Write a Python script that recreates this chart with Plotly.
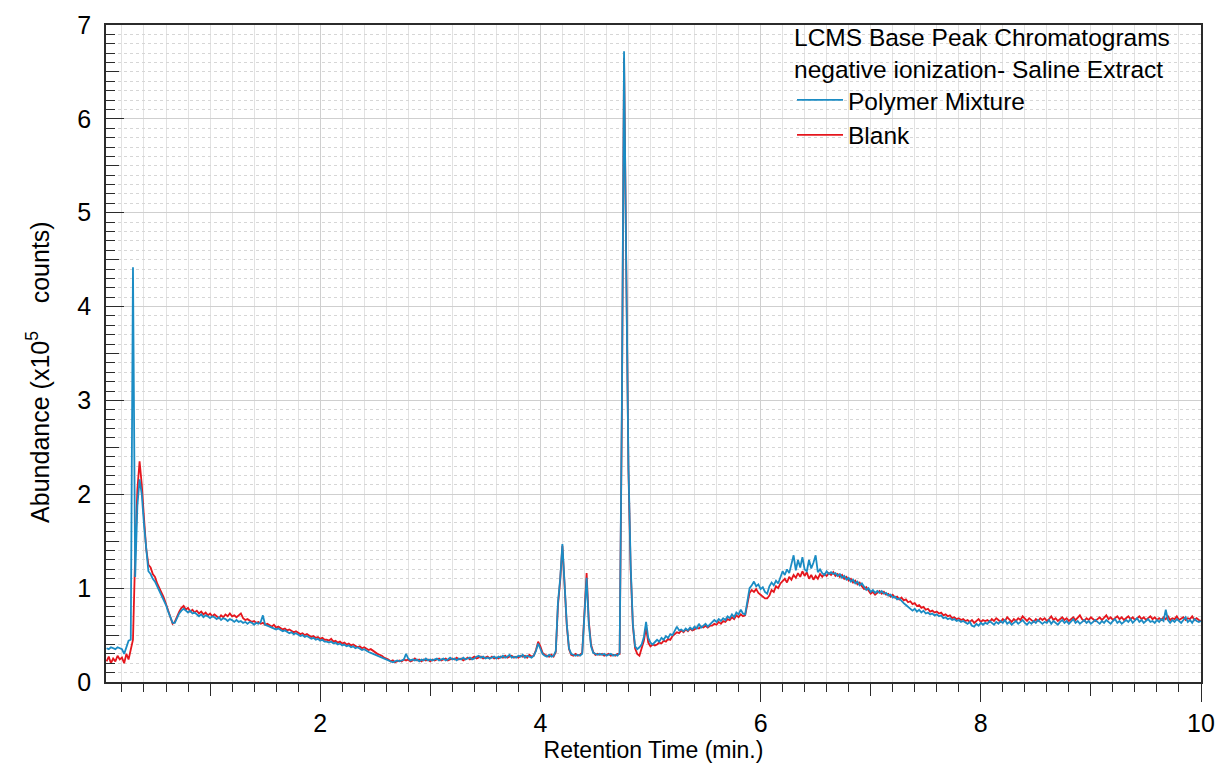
import numpy as np
import plotly.graph_objects as go

# Base peak abundance (x10^5 counts), sampled every 0.02 min starting at 0.06 min
polymer = [
    0.36, 0.35, 0.37, 0.36, 0.35, 0.37, 0.36, 0.35, 0.30, 0.38, 0.44, 0.45, 4.42, 1.12, 1.88, 2.16, 2.00, 1.68, 1.38, 1.18, 1.15, 1.10, 1.07, 1.02, 0.97,
    0.93, 0.88, 0.82, 0.75, 0.69, 0.63, 0.63, 0.68, 0.73, 0.76, 0.78, 0.76, 0.74, 0.76, 0.73, 0.74, 0.72, 0.70, 0.72, 0.69, 0.71, 0.70, 0.68, 0.70, 0.69,
    0.67, 0.69, 0.66, 0.68, 0.67, 0.65, 0.67, 0.66, 0.64, 0.66, 0.64, 0.65, 0.63, 0.64, 0.62, 0.64, 0.63, 0.61, 0.63, 0.62, 0.64, 0.71, 0.61, 0.60, 0.59,
    0.58, 0.57, 0.56, 0.57, 0.55, 0.54, 0.55, 0.53, 0.52, 0.53, 0.51, 0.52, 0.50, 0.49, 0.50, 0.48, 0.49, 0.47, 0.46, 0.47, 0.45, 0.46, 0.44, 0.45, 0.43,
    0.43, 0.42, 0.43, 0.41, 0.42, 0.40, 0.41, 0.39, 0.40, 0.38, 0.39, 0.37, 0.38, 0.36, 0.37, 0.35, 0.34, 0.35, 0.33, 0.32, 0.31, 0.30, 0.29, 0.28, 0.27,
    0.26, 0.25, 0.24, 0.23, 0.22, 0.21, 0.22, 0.23, 0.22, 0.23, 0.24, 0.30, 0.25, 0.23, 0.24, 0.23, 0.24, 0.22, 0.24, 0.23, 0.25, 0.23, 0.24, 0.23, 0.24,
    0.25, 0.23, 0.24, 0.25, 0.23, 0.24, 0.26, 0.24, 0.25, 0.23, 0.25, 0.24, 0.26, 0.24, 0.25, 0.26, 0.24, 0.25, 0.27, 0.28, 0.26, 0.27, 0.25, 0.26, 0.25,
    0.26, 0.27, 0.25, 0.27, 0.26, 0.28, 0.26, 0.27, 0.29, 0.26, 0.27, 0.26, 0.28, 0.27, 0.29, 0.26, 0.28, 0.27, 0.26, 0.28, 0.33, 0.41, 0.36, 0.30, 0.28,
    0.27, 0.29, 0.27, 0.28, 0.33, 0.85, 1.10, 1.47, 1.05, 0.62, 0.36, 0.30, 0.29, 0.28, 0.29, 0.28, 0.30, 0.75, 1.11, 0.62, 0.38, 0.31, 0.30, 0.29, 0.30,
    0.29, 0.30, 0.28, 0.29, 0.30, 0.28, 0.29, 0.28, 0.31, 2.90, 6.72, 4.40, 2.30, 1.25, 0.62, 0.38, 0.35, 0.37, 0.40, 0.48, 0.64, 0.47, 0.42, 0.40, 0.43,
    0.45, 0.43, 0.47, 0.45, 0.49, 0.47, 0.51, 0.50, 0.54, 0.59, 0.55, 0.56, 0.54, 0.57, 0.55, 0.58, 0.56, 0.59, 0.57, 0.62, 0.58, 0.60, 0.62, 0.59, 0.61,
    0.63, 0.66, 0.64, 0.67, 0.65, 0.68, 0.66, 0.70, 0.68, 0.72, 0.69, 0.74, 0.72, 0.77, 0.73, 0.72, 0.86, 1.00, 1.03, 1.07, 1.02, 1.04, 0.99, 1.01, 0.96,
    0.94, 1.02, 1.06, 1.03, 1.08, 1.05, 1.12, 1.18, 1.14, 1.20, 1.16, 1.25, 1.35, 1.19, 1.30, 1.22, 1.33, 1.20, 1.18, 1.30, 1.21, 1.27, 1.35, 1.17, 1.20,
    1.16, 1.14, 1.18, 1.15, 1.17, 1.15, 1.16, 1.13, 1.15, 1.11, 1.13, 1.09, 1.11, 1.07, 1.09, 1.05, 1.07, 1.03, 1.05, 1.01, 0.98, 1.00, 0.96, 0.98, 0.95,
    0.97, 0.95, 0.97, 0.94, 0.95, 0.92, 0.93, 0.90, 0.91, 0.88, 0.89, 0.86, 0.84, 0.82, 0.80, 0.78, 0.76, 0.78, 0.75, 0.77, 0.74, 0.76, 0.73, 0.74, 0.72,
    0.73, 0.71, 0.72, 0.70, 0.71, 0.68, 0.69, 0.67, 0.68, 0.66, 0.67, 0.65, 0.66, 0.64, 0.65, 0.63, 0.62, 0.64, 0.60, 0.59, 0.62, 0.60, 0.63, 0.61, 0.63,
    0.62, 0.65, 0.63, 0.61, 0.64, 0.62, 0.65, 0.63, 0.66, 0.62, 0.64, 0.61, 0.63, 0.65, 0.62, 0.64, 0.66, 0.63, 0.61, 0.64, 0.62, 0.65, 0.63, 0.66, 0.64,
    0.62, 0.64, 0.63, 0.66, 0.62, 0.65, 0.63, 0.61, 0.64, 0.66, 0.63, 0.65, 0.62, 0.64, 0.67, 0.63, 0.65, 0.62, 0.64, 0.66, 0.63, 0.65, 0.62, 0.64, 0.66,
    0.64, 0.62, 0.65, 0.63, 0.66, 0.64, 0.62, 0.65, 0.67, 0.63, 0.65, 0.62, 0.64, 0.66, 0.64, 0.67, 0.63, 0.65, 0.68, 0.64, 0.66, 0.63, 0.65, 0.67, 0.64,
    0.65, 0.63, 0.66, 0.64, 0.67, 0.65, 0.77, 0.66, 0.63, 0.66, 0.64, 0.67, 0.65, 0.63, 0.66, 0.69, 0.64, 0.66, 0.63, 0.67, 0.65, 0.64, 0.65,
]

blank = [
    0.22, 0.27, 0.20, 0.25, 0.22, 0.28, 0.24, 0.26, 0.20, 0.30, 0.24, 0.33, 0.45, 1.35, 2.05, 2.35, 2.10, 1.75, 1.42, 1.25, 1.22, 1.15, 1.12, 1.05, 0.99,
    0.95, 0.90, 0.83, 0.76, 0.70, 0.62, 0.64, 0.70, 0.75, 0.79, 0.81, 0.77, 0.79, 0.75, 0.77, 0.74, 0.76, 0.73, 0.75, 0.72, 0.74, 0.71, 0.73, 0.70, 0.72,
    0.70, 0.68, 0.71, 0.69, 0.72, 0.70, 0.73, 0.70, 0.71, 0.69, 0.71, 0.73, 0.68, 0.66, 0.67, 0.65, 0.64, 0.65, 0.63, 0.64, 0.62, 0.63, 0.61, 0.62, 0.60,
    0.59, 0.61, 0.58, 0.59, 0.57, 0.56, 0.57, 0.55, 0.56, 0.54, 0.53, 0.54, 0.52, 0.51, 0.52, 0.50, 0.51, 0.49, 0.48, 0.49, 0.47, 0.48, 0.46, 0.47, 0.45,
    0.45, 0.44, 0.46, 0.43, 0.44, 0.42, 0.43, 0.41, 0.42, 0.40, 0.41, 0.39, 0.40, 0.38, 0.37, 0.38, 0.36, 0.37, 0.35, 0.34, 0.35, 0.33, 0.32, 0.30, 0.29,
    0.28, 0.26, 0.25, 0.24, 0.22, 0.23, 0.21, 0.22, 0.23, 0.22, 0.24, 0.23, 0.24, 0.22, 0.23, 0.25, 0.23, 0.24, 0.22, 0.24, 0.23, 0.24, 0.22, 0.24, 0.23,
    0.24, 0.25, 0.23, 0.24, 0.25, 0.23, 0.24, 0.25, 0.24, 0.26, 0.24, 0.25, 0.23, 0.25, 0.26, 0.24, 0.26, 0.27, 0.25, 0.26, 0.27, 0.25, 0.26, 0.27, 0.25,
    0.27, 0.25, 0.26, 0.25, 0.27, 0.26, 0.28, 0.26, 0.27, 0.28, 0.26, 0.27, 0.26, 0.28, 0.27, 0.28, 0.26, 0.29, 0.27, 0.28, 0.34, 0.43, 0.38, 0.31, 0.29,
    0.28, 0.27, 0.29, 0.27, 0.32, 0.82, 1.08, 1.45, 1.03, 0.60, 0.35, 0.29, 0.28, 0.30, 0.28, 0.29, 0.31, 0.78, 1.16, 0.65, 0.40, 0.32, 0.29, 0.30, 0.29,
    0.30, 0.28, 0.29, 0.30, 0.28, 0.29, 0.28, 0.30, 0.30, 2.80, 6.65, 4.35, 2.25, 1.20, 0.60, 0.36, 0.30, 0.28, 0.36, 0.44, 0.58, 0.42, 0.38, 0.40, 0.39,
    0.40, 0.42, 0.41, 0.44, 0.43, 0.46, 0.45, 0.49, 0.51, 0.53, 0.52, 0.55, 0.53, 0.56, 0.54, 0.57, 0.55, 0.56, 0.58, 0.57, 0.59, 0.58, 0.60, 0.58, 0.60,
    0.60, 0.62, 0.61, 0.64, 0.62, 0.65, 0.64, 0.67, 0.66, 0.69, 0.67, 0.71, 0.69, 0.72, 0.70, 0.71, 0.82, 0.95, 0.98, 0.96, 0.99, 0.95, 0.93, 0.91, 0.89,
    0.89, 0.92, 0.98, 0.96, 1.02, 1.00, 1.05, 1.08, 1.10, 1.06, 1.12, 1.09, 1.14, 1.11, 1.16, 1.12, 1.18, 1.13, 1.17, 1.10, 1.14, 1.09, 1.13, 1.10, 1.15,
    1.12, 1.15, 1.13, 1.16, 1.14, 1.17, 1.13, 1.15, 1.12, 1.14, 1.10, 1.12, 1.08, 1.10, 1.06, 1.08, 1.04, 1.06, 1.02, 0.99, 1.01, 0.97, 0.94, 0.96, 0.93,
    0.95, 0.97, 0.94, 0.96, 0.93, 0.94, 0.91, 0.93, 0.90, 0.91, 0.88, 0.90, 0.87, 0.88, 0.85, 0.86, 0.83, 0.84, 0.81, 0.82, 0.79, 0.80, 0.77, 0.78, 0.75,
    0.76, 0.74, 0.75, 0.73, 0.74, 0.71, 0.72, 0.70, 0.71, 0.68, 0.69, 0.67, 0.68, 0.66, 0.67, 0.65, 0.66, 0.64, 0.66, 0.63, 0.65, 0.67, 0.64, 0.66, 0.65,
    0.66, 0.64, 0.67, 0.65, 0.68, 0.66, 0.64, 0.67, 0.65, 0.69, 0.66, 0.64, 0.67, 0.65, 0.68, 0.66, 0.70, 0.67, 0.65, 0.68, 0.66, 0.64, 0.67, 0.65, 0.68,
    0.66, 0.68, 0.65, 0.67, 0.70, 0.66, 0.68, 0.65, 0.67, 0.69, 0.66, 0.68, 0.65, 0.67, 0.69, 0.66, 0.68, 0.71, 0.67, 0.65, 0.68, 0.66, 0.69, 0.67, 0.65,
    0.67, 0.69, 0.66, 0.68, 0.71, 0.67, 0.69, 0.66, 0.68, 0.70, 0.67, 0.69, 0.66, 0.68, 0.70, 0.67, 0.69, 0.66, 0.68, 0.70, 0.67, 0.69, 0.66, 0.68, 0.70,
    0.67, 0.69, 0.66, 0.68, 0.66, 0.69, 0.67, 0.70, 0.66, 0.68, 0.67, 0.70, 0.66, 0.68, 0.69, 0.66, 0.68, 0.67, 0.70, 0.66, 0.68, 0.66, 0.65,
]

rt = np.round(0.06 + 0.02 * np.arange(len(polymer)), 2)

x_range = [0.055, 10.0]
y_range = [0.0, 7.0]

legend_title = "LCMS Base Peak Chromatograms<br>negative ionization- Saline Extract"
x_title = "Retention Time (min.)"
y_title = "Abundance (x10<sup>5</sup>\u00a0\u00a0\u00a0 counts)"

FONT = "Liberation Sans, Arial, sans-serif"
AX = "#2b2b2b"

fig = go.Figure()
fig.add_trace(go.Scatter(x=rt, y=blank, mode="lines", name="Blank",
                         line=dict(color="#e5161d", width=1.8), legendrank=2))
fig.add_trace(go.Scatter(x=rt, y=polymer, mode="lines", name="Polymer Mixture",
                         line=dict(color="#1b8cc4", width=1.8), legendrank=1))
# empty trace so the secondary (mid-length tick) axes are drawn
fig.add_trace(go.Scatter(x=[], y=[], xaxis="x2", yaxis="y2", showlegend=False, hoverinfo="skip"))

fig.update_layout(
    width=1219, height=774,
    margin=dict(l=106, r=18, t=25, b=92),
    paper_bgcolor="white", plot_bgcolor="white",
    font=dict(family=FONT, color="black", size=23),
    xaxis=dict(
        range=x_range, tick0=0, dtick=2, ticks="outside", ticklen=18, tickwidth=1.4,
        tickcolor=AX, showline=True, linecolor=AX, linewidth=1.5, mirror=True,
        showgrid=True, gridcolor="#cfcfcf", gridwidth=1, zeroline=False,
        tickfont=dict(size=25), ticklabelstandoff=0, automargin=False,
        title=dict(text=x_title, font=dict(size=23), standoff=2),
        minor=dict(dtick=0.2, tick0=0, ticks="outside", ticklen=8, tickwidth=1.4,
                   tickcolor=AX, showgrid=True, gridcolor="#e2e2e2", gridwidth=1),
    ),
    xaxis2=dict(
        range=x_range, overlaying="x", anchor="y", side="bottom", tick0=1, dtick=1,
        ticks="outside", ticklen=13, tickwidth=1.4, tickcolor=AX,
        showticklabels=False, showgrid=False, showline=False, zeroline=False,
    ),
    yaxis=dict(
        range=y_range, tick0=0, dtick=1, ticks="inside", ticklen=18, tickwidth=1.4,
        tickcolor=AX, showline=True, linecolor=AX, linewidth=1.5, mirror=True,
        showgrid=True, gridcolor="#cfcfcf", gridwidth=1, zeroline=False,
        tickfont=dict(size=25), ticklabelstandoff=8, automargin=False,
        minor=dict(dtick=0.1, tick0=0, ticks="inside", ticklen=9, tickwidth=1.4,
                   tickcolor=AX, showgrid=True, gridcolor="#d6d6d6", griddash="dot", gridwidth=1),
    ),
    yaxis2=dict(
        range=y_range, overlaying="y", anchor="x", side="left", tick0=0, dtick=0.5,
        ticks="inside", ticklen=13, tickwidth=1.4, tickcolor=AX,
        showticklabels=False, showgrid=False, showline=False, zeroline=False,
    ),
    legend=dict(
        x=0.6265, y=1.017, xanchor="left", yanchor="top",
        bgcolor="rgba(0,0,0,0)", borderwidth=0,
        font=dict(size=24.5, family=FONT), itemwidth=46, tracegroupgap=0,
        title=dict(text=legend_title, font=dict(size=24.5, family=FONT)),
    ),
    annotations=[dict(
        text=y_title, textangle=-90, xref="paper", yref="paper",
        x=-0.0621, y=0.472, xanchor="center", yanchor="middle",
        showarrow=False, font=dict(size=25, family=FONT, color="black"),
    )],
    showlegend=True,
)

fig.write_html("out.html")
